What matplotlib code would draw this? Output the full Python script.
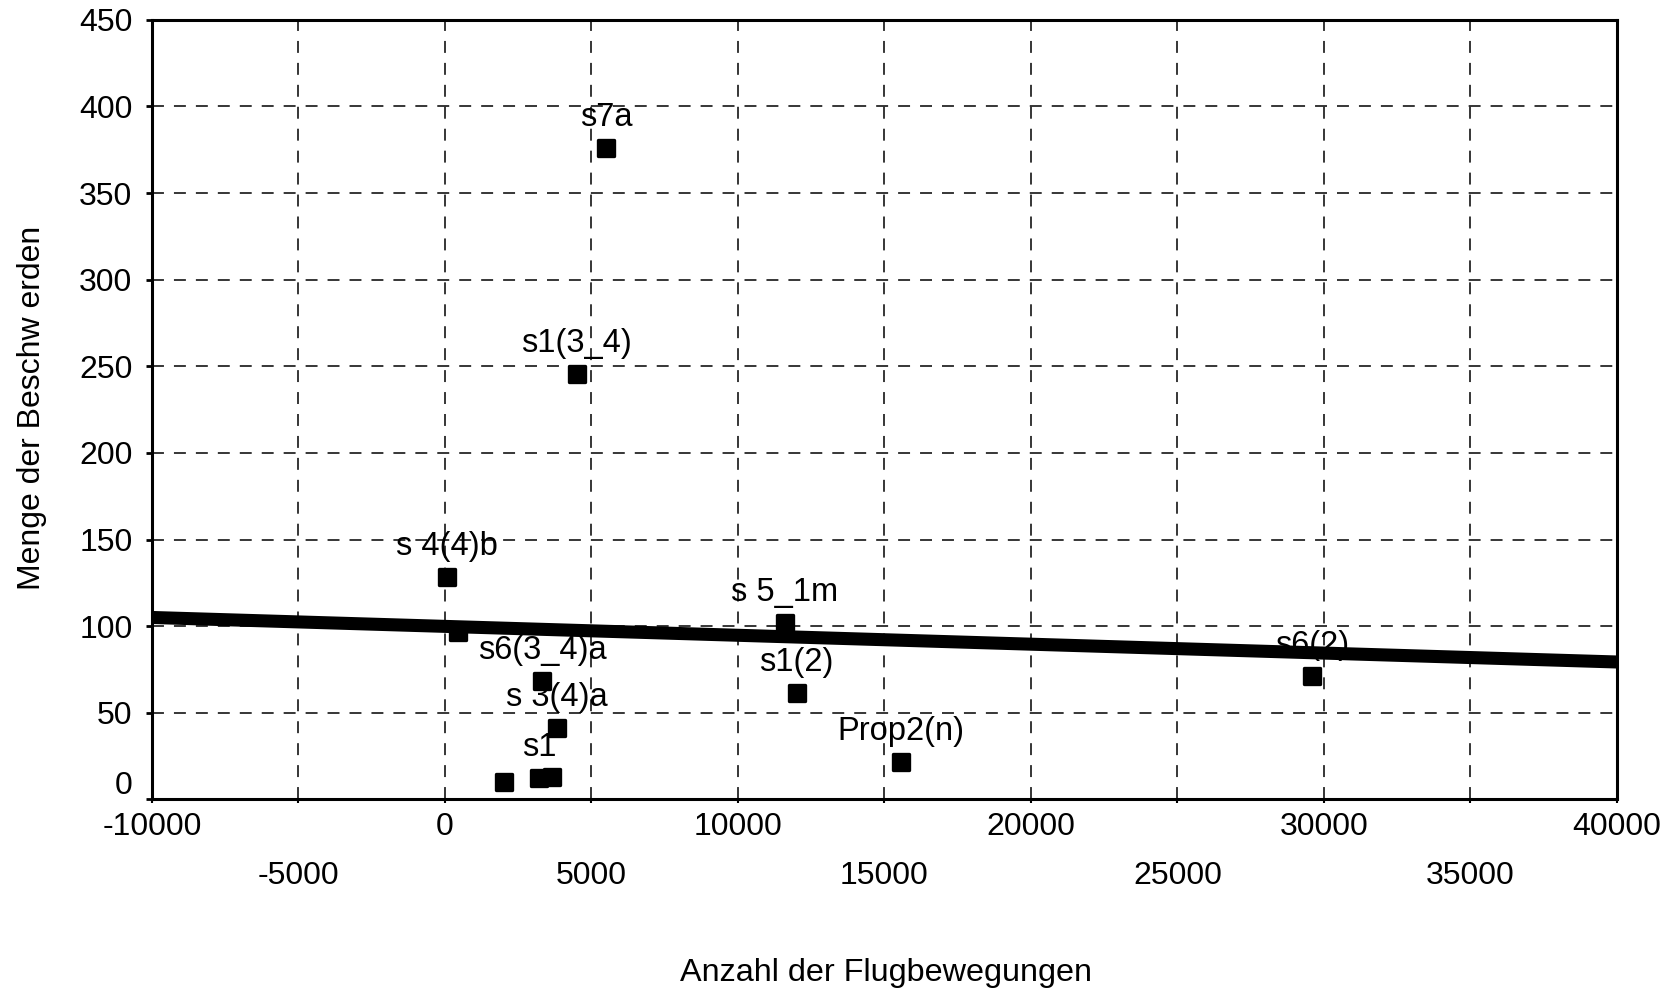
import matplotlib
matplotlib.use("Agg")
import matplotlib.pyplot as plt
import matplotlib.transforms as mtransforms
from matplotlib.markers import MarkerStyle

plt.rcParams['font.family'] = ['Liberation Sans', 'DejaVu Sans']
plt.rcParams['lines.scale_dashes'] = False

# Flight movements vs. number of complaints per measuring station
flights = [5495, 4491, 78, 454, 3321, 3833, 2024, 3218, 3662,
           11604, 12003, 15563, 29580]
complaints = [376.2, 245.3, 128.2, 96.8, 68.3, 41.4, 10.2, 12.2, 13.1,
              102.0, 61.2, 21.8, 71.2]
point_labels = ["s7a", "s1(3_4)", "s 4(4)b", "", "s6(3_4)a", "s 3(4)a", "",
                "s1", "", "s 5_1m", "s1(2)", "Prop2(n)", "s6(2)"]

# Linear trend line
trend_x = [-10000, 40000]
trend_y = [105.0, 79.3]

x_major = [-10000, 0, 10000, 20000, 30000, 40000]
x_minor = [-5000, 5000, 15000, 25000, 35000]
y_ticks = [0, 50, 100, 150, 200, 250, 300, 350, 400, 450]

FS = 23
FS_LAB = 23.5

fig = plt.figure(figsize=(16.68, 9.94), dpi=100)
ax = fig.add_axes([0.0911, 0.1958, 0.8783, 0.7843])

ax.set_xlim(-10000, 40000)
ax.set_ylim(0, 450)

ax.set_xticks(x_major)
ax.set_xticklabels([str(v) for v in x_major], fontsize=FS)
ax.set_xticks(x_minor, minor=True)
ax.set_xticklabels([str(v) for v in x_minor], minor=True, fontsize=FS)
ax.set_yticks(y_ticks)
ax.set_yticklabels([str(v) for v in y_ticks], fontsize=FS)

ax.tick_params(axis='x', which='major', length=3, width=1.5, pad=6, color='black')
ax.tick_params(axis='x', which='minor', length=3, width=1.5, pad=41.5, color='black')
ax.tick_params(axis='y', which='major', length=4, width=2, pad=10, color='black')

for sp in ax.spines.values():
    sp.set_linewidth(2.2)
    sp.set_color('black')

# dashed grid
ax.grid(True, axis='x', which='both', color='black', linewidth=1.1,
        linestyle=(0, (8.6, 7.2)), zorder=0)
ax.grid(True, axis='y', which='major', color='black', linewidth=1.1,
        linestyle=(0, (8.6, 7.2)), zorder=0)
ax.set_axisbelow(True)

marker = MarkerStyle('s', joinstyle='round')
ax.plot(flights, complaints, linestyle='none', marker=marker, markersize=11.5,
        markerfacecolor='black', markeredgecolor='black', markeredgewidth=2.4,
        zorder=2)

for xv, yv, lab in zip(flights, complaints, point_labels):
    if lab:
        ax.annotate(lab, (xv, yv), xytext=(0, 22), textcoords='offset points',
                    ha='center', va='center', fontsize=FS_LAB, zorder=3)

ax.plot(trend_x, trend_y, color='black', linewidth=9.4, solid_capstyle='butt',
        zorder=4, clip_on=True)

# lift the "0" label clear of the x labels
zero_lab = ax.get_yticklabels()[0]
zero_lab.set_transform(zero_lab.get_transform() +
                       mtransforms.ScaledTranslation(0, 12 / 72, fig.dpi_scale_trans))

fig.text(886 / 1668, 1 - 973 / 994, "Anzahl der Flugbewegungen",
         ha='center', va='center', fontsize=23.3)
fig.text(32 / 1668, 1 - 408 / 994, "Menge der Beschw erden",
         ha='center', va='center', rotation=90, fontsize=23)

fig.savefig('out.png', dpi=100)
